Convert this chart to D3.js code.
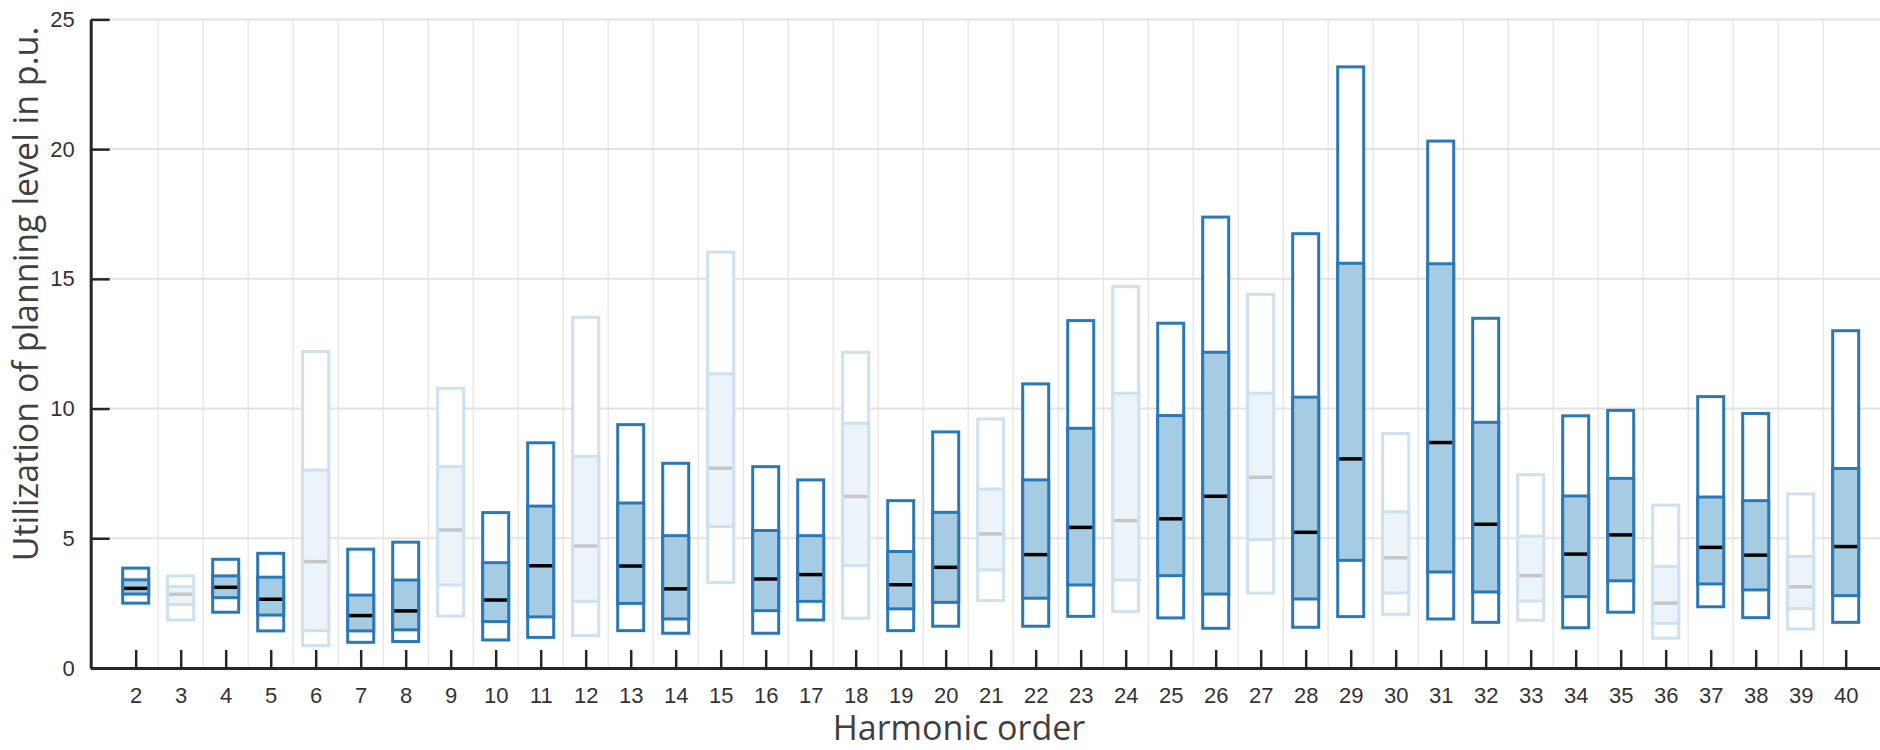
<!DOCTYPE html>
<html>
<head>
<meta charset="utf-8">
<script src="https://cdn.jsdelivr.net/npm/d3@7"></script>
<style>
  body { margin: 0; background: #fff; }
  svg { display: block; }
</style>
</head>
<body>
<svg id="chart" width="1880" height="750"></svg>
<script>
// harmonic orders and box values (min, q1, median, q3, max), in p.u. of planning level
const harmonics = [2, 3, 4, 5, 6, 7, 8, 9, 10, 11, 12, 13, 14, 15, 16, 17, 18, 19, 20, 21,
  22, 23, 24, 25, 26, 27, 28, 29, 30, 31, 32, 33, 34, 35, 36, 37, 38, 39, 40];
const mins = [2.5, 1.85, 2.15, 1.43, 0.86, 0.99, 1.02, 2.0, 1.08, 1.18, 1.25, 1.44, 1.34, 3.3, 1.34, 1.85, 1.92, 1.44, 1.61, 2.6,
  1.61, 1.99, 2.18, 1.93, 1.53, 2.89, 1.57, 1.98, 2.07, 1.89, 1.76, 1.84, 1.55, 2.15, 1.15, 2.36, 1.94, 1.5, 1.76];
const q1s = [2.85, 2.45, 2.71, 2.04, 1.44, 1.43, 1.47, 3.2, 1.79, 1.97, 2.57, 2.49, 1.89, 5.45, 2.21, 2.57, 3.95, 2.28, 2.53, 3.78,
  2.69, 3.2, 3.39, 3.56, 2.85, 4.95, 2.66, 4.15, 2.89, 3.7, 2.93, 2.58, 2.75, 3.36, 1.72, 3.24, 3.01, 2.29, 2.79];
const medians = [3.07, 2.84, 3.11, 2.65, 4.1, 2.02, 2.2, 5.32, 2.62, 3.94, 4.7, 3.93, 3.05, 7.7, 3.43, 3.6, 6.61, 3.21, 3.88, 5.17,
  4.37, 5.42, 5.68, 5.75, 6.62, 7.35, 5.23, 8.06, 4.25, 8.69, 5.54, 3.56, 4.39, 5.13, 2.5, 4.65, 4.35, 3.13, 4.68];
const q3s = [3.4, 3.14, 3.55, 3.5, 7.63, 2.81, 3.39, 7.76, 4.06, 6.24, 8.16, 6.36, 5.1, 11.34, 5.3, 5.1, 9.43, 4.49, 6.0, 6.9,
  7.25, 9.24, 10.59, 9.73, 12.17, 10.59, 10.44, 15.6, 6.02, 15.58, 9.47, 5.08, 6.63, 7.31, 3.91, 6.59, 6.45, 4.3, 7.69];
const maxs = [3.85, 3.55, 4.19, 4.42, 12.2, 4.58, 4.85, 10.78, 5.99, 8.68, 13.52, 9.38, 7.89, 16.03, 7.76, 7.25, 12.17, 6.45, 9.1, 9.6,
  10.95, 13.39, 14.7, 13.29, 17.38, 14.4, 16.74, 23.17, 9.04, 20.31, 13.48, 7.45, 9.72, 9.93, 6.28, 10.46, 9.81, 6.71, 13.0];
const yTicks = [0, 5, 10, 15, 20, 25];

const svg = d3.select("#chart");
const plotLeft = 90.7, plotBottom = 668, plotTop = 19.4;

const x = d3.scaleLinear().domain([1, 41]).range([plotLeft, plotLeft + 40 * 45]);
const y = d3.scaleLinear().domain([0, 25]).range([plotBottom, plotTop]);

const boxW = 26;
const dark = { stroke: "#2a78b5", fill: "#a6cce3", med: "#000000" };
const light = { stroke: "#cde1f1", fill: "#ecf4fa", med: "#c6c6c6" };

const rows = harmonics.map((h, i) => ({
  h: h, min: mins[i], q1: q1s[i], med: medians[i], q3: q3s[i], max: maxs[i],
  c: h % 3 === 0 ? light : dark
}));

// grid
const grid = svg.append("g");
grid.selectAll("line.v")
  .data(harmonics.slice(0, -1))
  .enter()
  .append("line")
  .attr("class", "v")
  .attr("x1", d => x(d + 0.5))
  .attr("x2", d => x(d + 0.5))
  .attr("y1", plotTop)
  .attr("y2", plotBottom)
  .attr("stroke", "#e9e9e9")
  .attr("stroke-width", 1.5);
grid.selectAll("line.h")
  .data(yTicks.slice(1))
  .enter()
  .append("line")
  .attr("class", "h")
  .attr("x1", plotLeft)
  .attr("x2", 1880)
  .attr("y1", d => y(d))
  .attr("y2", d => y(d))
  .attr("stroke", "#e2e2e2")
  .attr("stroke-width", 2);

// boxes
const boxes = svg.append("g").selectAll("g")
  .data(rows)
  .enter()
  .append("g");

boxes.append("rect")
  .attr("x", d => x(d.h) - boxW / 2)
  .attr("width", boxW)
  .attr("y", d => y(d.max))
  .attr("height", d => y(d.min) - y(d.max))
  .attr("fill", "#fff")
  .attr("stroke", d => d.c.stroke)
  .attr("stroke-width", 3);

boxes.append("rect")
  .attr("x", d => x(d.h) - boxW / 2)
  .attr("width", boxW)
  .attr("y", d => y(d.q3))
  .attr("height", d => y(d.q1) - y(d.q3))
  .attr("fill", d => d.c.fill)
  .attr("stroke", d => d.c.stroke)
  .attr("stroke-width", 3);

boxes.append("line")
  .attr("x1", d => x(d.h) - boxW / 2 + 1.5)
  .attr("x2", d => x(d.h) + boxW / 2 - 1.5)
  .attr("y1", d => y(d.med))
  .attr("y2", d => y(d.med))
  .attr("stroke", d => d.c.med)
  .attr("stroke-width", 3.5);

// axes
const xAxis = svg.append("g")
  .attr("transform", `translate(0,${plotBottom})`)
  .call(d3.axisBottom(x).tickValues(harmonics).tickSize(-18).tickPadding(14).tickSizeOuter(0));
const yAxis = svg.append("g")
  .attr("transform", `translate(${plotLeft},0)`)
  .call(d3.axisLeft(y).tickValues(yTicks).tickSize(-19).tickPadding(16).tickSizeOuter(0));

[xAxis, yAxis].forEach(a => {
  a.select(".domain").attr("stroke", "#262626").attr("stroke-width", 3);
  a.selectAll(".tick line").attr("stroke", "#262626").attr("stroke-width", 2.5);
  a.selectAll(".tick text")
    .attr("fill", "#333")
    .attr("font-family", "Liberation Sans, Arial, sans-serif")
    .attr("font-size", 22);
});
xAxis.selectAll(".tick text").attr("dy", "0.71em").attr("y", 19);

svg.append("text")
  .attr("x", 959)
  .attr("y", 740)
  .attr("text-anchor", "middle")
  .attr("fill", "#404040")
  .attr("font-family", "Open Sans, sans-serif")
  .attr("font-size", 34)
  .text("Harmonic order");

svg.append("text")
  .attr("transform", "translate(38,294) rotate(-90)")
  .attr("text-anchor", "middle")
  .attr("fill", "#404040")
  .attr("font-family", "Open Sans, sans-serif")
  .attr("font-size", 34)
  .text("Utilization of planning level in p.u.");
</script>
</body>
</html>
